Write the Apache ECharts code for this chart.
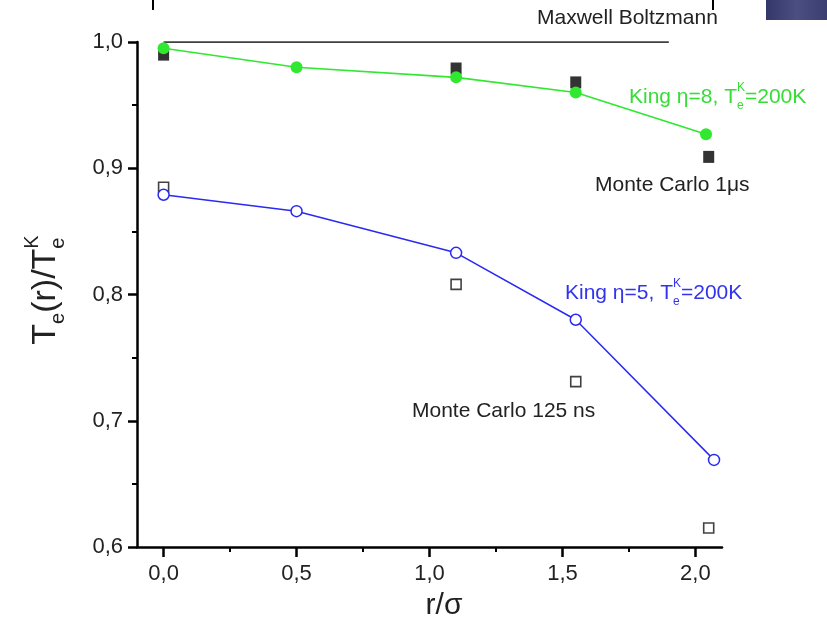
<!DOCTYPE html>
<html>
<head>
<meta charset="utf-8">
<script src="https://cdn.jsdelivr.net/npm/echarts@6/dist/echarts.min.js"></script>
<style>
  html, body { margin: 0; padding: 0; background: #fff; }
  #main { width: 827px; height: 620px; }
</style>
</head>
<body>
<div id="main"></div>
<script>
// data (r/sigma, Te(r)/Te^K)
const maxwellR = [0, 1.9];
const maxwellT = [1.0, 1.0];
const kingEta8R = [0, 0.5, 1.1, 1.55, 2.04];
const kingEta8T = [0.995, 0.980, 0.972, 0.960, 0.927];
const kingEta5R = [0, 0.5, 1.1, 1.55, 2.07];
const kingEta5T = [0.879, 0.866, 0.833, 0.780, 0.669];
const mc1usR = [0, 1.1, 1.55, 2.05];
const mc1usT = [0.990, 0.979, 0.968, 0.909];
const mc125nsR = [0, 1.1, 1.55, 2.05];
const mc125nsT = [0.885, 0.808, 0.731, 0.615];
const xTicks = [0, 0.5, 1.0, 1.5, 2.0];
const xMinorTicks = [0.25, 0.75, 1.25, 1.75];

const FONT = '"Liberation Sans", Arial, Helvetica, sans-serif';
const GREEN = '#2fe82f';
const BLUE = '#2a2af2';

function pairs(xs, ys) {
  return xs.map((x, i) => [x, ys[i]]);
}
function comma(v) {
  return v.toFixed(1).replace('.', ',');
}

// little helper for texts with sub/superscripts (built from pieces)
const measureCtx = document.createElement('canvas').getContext('2d');
function mathLabel(x, y, segs, color, center, rotation) {
  let cx = 0;
  const children = [];
  segs.forEach(s => {
    const font = s.size + 'px ' + FONT;
    children.push({
      type: 'text',
      x: cx,
      y: s.dy || 0,
      style: { text: s.t, font: font, fill: color, align: 'left', verticalAlign: 'middle' }
    });
    measureCtx.font = font;
    if (!s.keep) cx += measureCtx.measureText(s.t).width;
  });
  if (center) children.forEach(c => { c.x -= cx / 2; });
  return { type: 'group', x: x, y: y, rotation: rotation || 0, children: children, silent: true };
}

var myChart = echarts.init(document.getElementById('main'));

var option = {
  animation: false,
  backgroundColor: '#fff',
  grid: { left: 137, right: 105, top: 42, bottom: 73, containLabel: false, outerBoundsMode: 'none' },
  xAxis: [
    {
      type: 'value', min: -0.1, max: 2.1,
      axisLine: { onZero: false, lineStyle: { color: '#000', width: 2.5 } },
      axisTick: { customValues: xTicks, length: 10, lineStyle: { color: '#000', width: 2.5 } },
      axisLabel: { customValues: xTicks, formatter: comma, margin: 16, fontSize: 22, fontFamily: FONT, color: '#222' },
      splitLine: { show: false }
    },
    {
      type: 'value', min: -0.1, max: 2.1, position: 'bottom',
      axisLine: { show: false, onZero: false },
      axisTick: { customValues: xMinorTicks, length: 5, lineStyle: { color: '#000', width: 2 } },
      axisLabel: { show: false },
      splitLine: { show: false }
    }
  ],
  yAxis: {
    type: 'value', min: 0.6, max: 1.0, interval: 0.1,
    axisLine: { show: true, onZero: false, lineStyle: { color: '#000', width: 2.5 } },
    axisTick: { show: true, length: 9, lineStyle: { color: '#000', width: 2.5 } },
    minorTick: { show: true, splitNumber: 2, length: 5, lineStyle: { color: '#000', width: 2 } },
    axisLabel: { formatter: comma, margin: 14, fontSize: 22, fontFamily: FONT, color: '#222' },
    splitLine: { show: false }
  },
  series: [
    {
      name: 'Maxwell Boltzmann', type: 'line', data: pairs(maxwellR, maxwellT),
      symbol: 'none', lineStyle: { color: '#000', width: 1.5 }, z: 2
    },
    {
      name: 'Monte Carlo 1us', type: 'scatter', data: pairs(mc1usR, mc1usT),
      symbol: 'rect', symbolSize: [11, 12], itemStyle: { color: '#000' }, z: 3
    },
    {
      name: 'Monte Carlo 125 ns', type: 'scatter', data: pairs(mc125nsR, mc125nsT),
      symbol: 'rect', symbolSize: 10,
      itemStyle: { color: '#fff', borderColor: '#111', borderWidth: 1.6 }, z: 3
    },
    {
      name: 'King eta=8', type: 'line', data: pairs(kingEta8R, kingEta8T),
      symbol: 'circle', symbolSize: 12, showSymbol: true,
      lineStyle: { color: GREEN, width: 1.6 }, itemStyle: { color: GREEN }, z: 4
    },
    {
      name: 'King eta=5', type: 'line', data: pairs(kingEta5R, kingEta5T),
      symbol: 'circle', symbolSize: 11, showSymbol: true,
      lineStyle: { color: BLUE, width: 1.5 },
      itemStyle: { color: '#fff', borderColor: BLUE, borderWidth: 1.5 }, z: 4
    }
  ],
  graphic: [
    // bits of the neighbouring figure cut by the crop
    { type: 'line', shape: { x1: 153, y1: 0, x2: 153, y2: 10 }, style: { stroke: '#000', lineWidth: 2 } },
    { type: 'line', shape: { x1: 713, y1: 0, x2: 713, y2: 10 }, style: { stroke: '#000', lineWidth: 2 } },
    {
      type: 'rect', shape: { x: 766, y: 0, width: 61, height: 20 },
      style: {
        fill: new echarts.graphic.LinearGradient(0, 0, 1, 0, [
          { offset: 0, color: '#33376a' }, { offset: 0.5, color: '#4a4e80' }, { offset: 1, color: '#3a3e70' }
        ])
      }
    },
    // annotations
    mathLabel(537, 18, [{ t: 'Maxwell Boltzmann', size: 21 }], '#222'),
    mathLabel(629, 97, [
      { t: 'King \u03b7=8, T', size: 21 },
      { t: 'e', size: 12, dy: 9, keep: true },
      { t: 'K', size: 12, dy: -9 },
      { t: '=200K', size: 21 }
    ], '#35dd35'),
    mathLabel(595, 185, [{ t: 'Monte Carlo 1\u03bcs', size: 21 }], '#222'),
    mathLabel(565, 293, [
      { t: 'King \u03b7=5, T', size: 21 },
      { t: 'e', size: 12, dy: 9, keep: true },
      { t: 'K', size: 12, dy: -9 },
      { t: '=200K', size: 21 }
    ], '#3333ee'),
    mathLabel(412, 411, [{ t: 'Monte Carlo 125 ns', size: 21 }], '#222'),
    // axis titles
    mathLabel(444, 606, [{ t: 'r/\u03c3', size: 30 }], '#222', true),
    mathLabel(46, 290, [
      { t: 'T', size: 34 },
      { t: 'e', size: 20, dy: 12 },
      { t: '(r)/T', size: 34 },
      { t: 'e', size: 20, dy: 12, keep: true },
      { t: 'K', size: 20, dy: -14 }
    ], '#222', true, Math.PI / 2)
  ]
};

myChart.setOption(option);
</script>
</body>
</html>
